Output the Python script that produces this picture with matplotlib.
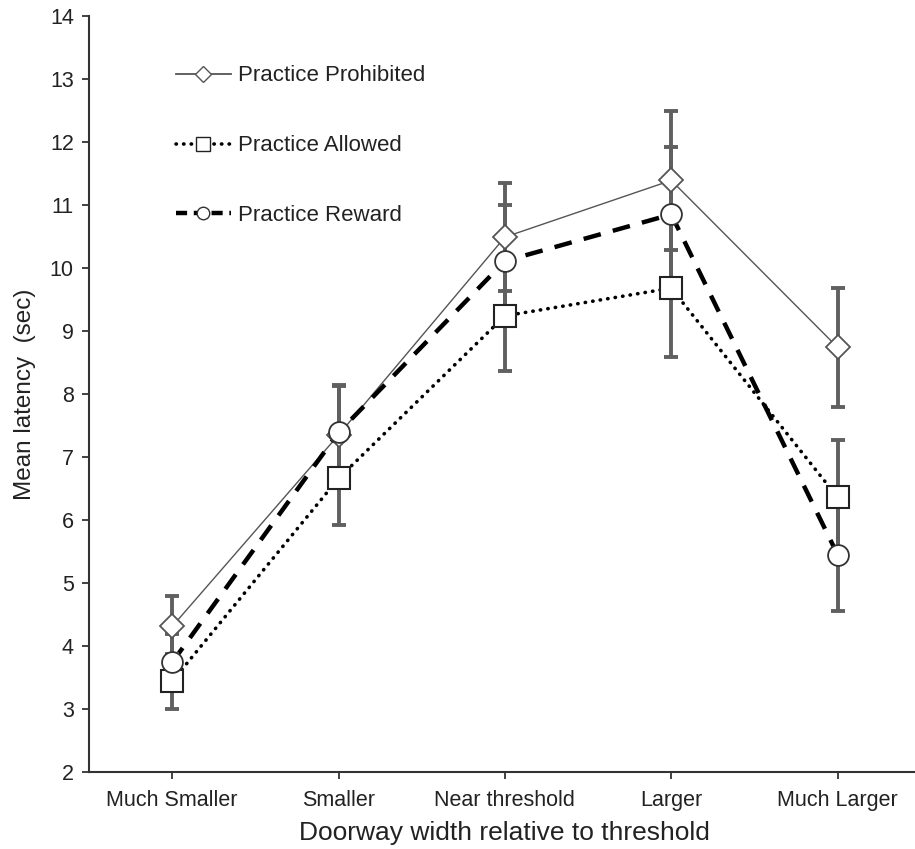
import matplotlib
matplotlib.use("Agg")
import matplotlib.pyplot as plt
from matplotlib.lines import Line2D

plt.rcParams['font.family'] = ['Liberation Sans', 'DejaVu Sans']

categories = ["Much Smaller", "Smaller", "Near threshold", "Larger", "Much Larger"]

prohibited = [4.31, 7.35, 10.49, 11.39, 8.74]
prohibited_err = [0.48, 0.77, 0.86, 1.10, 0.94]

allowed = [3.44, 6.66, 9.24, 9.68, 6.36]
allowed_err = [0.44, 0.74, 0.87, 1.10, 0.91]

reward = [3.74, 7.39, 10.11, 10.85, 5.45]
reward_err = [0.45, 0.75, 0.89, 1.07, 0.90]

x = list(range(1, len(categories) + 1))

fig = plt.figure(figsize=(9.15, 8.49), dpi=100)
ax = fig.add_axes([0.0973, 0.0907, 0.909, 0.8905])

err_color = "#606060"
series = [
    (prohibited, prohibited_err, dict(color="#555555", lw=1.0, ls="-"),
     dict(marker="D", ms=12.5, mec="#555555", mew=1.3)),
    (allowed, allowed_err, dict(color="black", lw=2.6, ls=(0, (0.1, 2.0)), dash_capstyle="round"),
     dict(marker="s", ms=15.5, mec="#222222", mew=1.5)),
    (reward, reward_err, dict(color="black", lw=3.2, ls=(0, (4.0, 2.8))),
     dict(marker="o", ms=15, mec="#333333", mew=1.3)),
]

for vals, errs, lstyle, mstyle in series:
    ax.plot(x, vals, zorder=2, **lstyle)
    ax.errorbar(x, vals, yerr=errs, fmt="none", ecolor=err_color, elinewidth=2.8,
                capsize=5, capthick=2.8, zorder=3)
    ax.plot(x, vals, ls="none", mfc="white", zorder=4, **mstyle)

ax.set_xlim(0.5, 5.5)
ax.set_ylim(2, 14)
ax.set_yticks(range(2, 15))
ax.set_xticks(x)
ax.set_xticklabels(categories)
ax.tick_params(axis="both", direction="out", length=5, width=1.3, color="#333333",
               labelsize=15.5, labelcolor="#222222", pad=6)
ax.tick_params(axis="x", pad=8)
for side in ["top", "right"]:
    ax.spines[side].set_visible(False)
for side in ["left", "bottom"]:
    ax.spines[side].set_color("#333333")
    ax.spines[side].set_linewidth(1.5)

ax.set_xlabel("Doorway width relative to threshold", fontsize=19, color="#222222", labelpad=7)
ax.set_ylabel("Mean latency  (sec)", fontsize=17.5, color="#222222", labelpad=10)

handles = [
    Line2D([], [], color="#555555", lw=1.3, marker="D", ms=8, mfc="white", mec="#555555"),
    Line2D([], [], color="black", lw=2.6, ls=(0, (0.1, 2.0)), dash_capstyle="round",
           marker="s", ms=10, mfc="white", mec="#222222"),
    Line2D([], [], color="black", lw=3.2, ls=(0, (2.5, 1.5)), marker="o", ms=9,
           mfc="white", mec="#333333"),
]
ax.legend(handles, ["Practice Prohibited", "Practice Allowed", "Practice Reward"],
          loc="upper left", bbox_to_anchor=(0.08, 0.961), frameon=False, fontsize=16,
          handlelength=2.5, handletextpad=0.3, labelspacing=2.2, labelcolor="#222222")

fig.savefig("out.png", dpi=100)
